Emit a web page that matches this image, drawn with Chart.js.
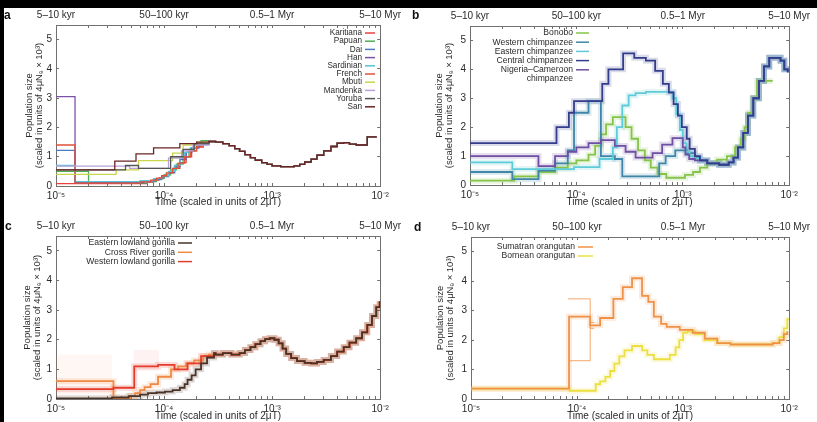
<!DOCTYPE html>
<html>
<head>
<meta charset="utf-8">
<script src="https://cdn.jsdelivr.net/npm/chart.js@4.4.1/dist/chart.umd.min.js"></script>
<style>
  body { margin: 0; background: #fff; }
  #wrap { position: relative; width: 817px; height: 422px; overflow: hidden; background: #fff; }
  canvas { position: absolute; }
  .tag { position: absolute; font: bold 12px "Liberation Sans", Arial, sans-serif; color: #111; line-height: 12px; }
  .edge { position: absolute; background: #000; }
</style>
</head>
<body>
<div id="wrap">
  <canvas id="chartA" width="408" height="211" style="left:0;top:0"></canvas>
  <canvas id="chartB" width="409" height="211" style="left:408px;top:0"></canvas>
  <canvas id="chartC" width="408" height="211" style="left:0;top:211px"></canvas>
  <canvas id="chartD" width="409" height="211" style="left:408px;top:211px"></canvas>
  <div class="edge" style="left:0;top:0;width:817px;height:8px"></div>
  <div class="edge" style="left:0;top:0;width:4px;height:422px"></div>
  <div class="tag" style="left:4px;top:9px">a</div>
  <div class="tag" style="left:412px;top:9px">b</div>
  <div class="tag" style="left:5px;top:220px">c</div>
  <div class="tag" style="left:414px;top:221px">d</div>
</div>
<script>
// AXES
const decades = [1e-5, 1e-4, 1e-3, 1e-2];
const bottomTickLabels = ["10⁻⁵", "10⁻⁴", "10⁻³", "10⁻²"];
const topTickLabels = ["5–10 kyr", "50–100 kyr", "0.5–1 Myr", "5–10 Myr"];
const yTicks = [0, 1, 2, 3, 4, 5];
const xTitle = "Time (scaled in units of 2μT)";
const yTitle = ["Population size", "(scaled in units of 4μNₑ × 10³)"];

// minor tick marks 1..9 per decade
const minorTicks = [];
decades.forEach((d, i) => {
    for (let k = 1; k < 10; k++) {
        if (i < 3 || k === 1) minorTicks.push(k * d);
    }
});

// PANEL A - humans
const aTrunkT = [2.6e-4, 3.0e-4, 3.5e-4, 4.0e-4, 4.5e-4, 5.0e-4, 5.6e-4, 6.3e-4, 7.0e-4, 8.0e-4, 9.0e-4, 1.0e-3, 1.2e-3, 1.4e-3, 1.6e-3, 1.8e-3, 2.0e-3, 2.3e-3, 2.6e-3, 3.0e-3, 3.5e-3, 4.0e-3, 4.6e-3, 5.2e-3, 6.0e-3, 7.6e-3, 9.3e-3];
const aTrunkN = [1.52, 1.5, 1.45, 1.38, 1.28, 1.18, 1.07, 0.97, 0.88, 0.8, 0.74, 0.69, 0.66, 0.66, 0.69, 0.74, 0.82, 0.92, 1.05, 1.2, 1.35, 1.46, 1.48, 1.43, 1.4, 1.68, 1.68];

const karitianaT = [1e-5, 7e-5, 8e-5, 9e-5, 1.0e-4, 1.1e-4, 1.25e-4, 1.4e-4, 1.6e-4, 1.8e-4, 2.0e-4, 2.3e-4];
const karitianaN = [0.08, 0.13, 0.2, 0.28, 0.36, 0.46, 0.6, 0.8, 1.0, 1.2, 1.33, 1.45];
const papuanT = [1e-5, 2.0e-5, 3.5e-5, 7e-5, 8.5e-5, 1.0e-4, 1.15e-4, 1.3e-4, 1.5e-4, 1.7e-4, 1.9e-4, 2.2e-4];
const papuanN = [0.5, 0.15, 0.1, 0.15, 0.25, 0.38, 0.55, 0.75, 1.0, 1.2, 1.38, 1.55];
const eastAsiaT = [1e-5, 1.5e-5, 6.5e-5, 8e-5, 9.5e-5, 1.1e-4, 1.25e-4, 1.4e-4, 1.6e-4, 1.8e-4, 2.1e-4];
const daiN = [1.22, 0.12, 0.15, 0.22, 0.32, 0.45, 0.65, 0.9, 1.15, 1.3, 1.42];
const hanN = [3.05, 0.12, 0.16, 0.24, 0.34, 0.48, 0.68, 0.92, 1.15, 1.3, 1.42];
const sardinianT = [1e-5, 1.5e-5, 6e-5, 8e-5, 9.5e-5, 1.1e-4, 1.25e-4, 1.4e-4, 1.55e-4, 1.75e-4, 2.0e-4];
const sardinianN = [0.7, 0.15, 0.18, 0.25, 0.35, 0.5, 0.7, 0.95, 1.15, 1.3, 1.42];
const frenchT = [1e-5, 1.5e-5, 6e-5, 7.5e-5, 8.5e-5, 9.5e-5, 1.05e-4, 1.2e-4, 1.35e-4, 1.55e-4, 1.75e-4, 2.0e-4, 2.3e-4];
const frenchN = [1.4, 0.1, 0.14, 0.2, 0.27, 0.35, 0.45, 0.6, 0.78, 1.0, 1.2, 1.35, 1.45];
const mbutiT = [1e-5, 3.6e-5, 5.8e-5, 1.2e-4, 1.5e-4, 2.0e-4];
const mbutiN = [0.4, 0.55, 0.87, 1.12, 1.4, 1.5];
const mandenkaT = [1e-5, 4.8e-5, 1.1e-4, 1.45e-4, 1.85e-4];
const mandenkaN = [0.68, 0.6, 0.95, 1.2, 1.4];
const yorubaT = [1e-5, 4.4e-5, 5.8e-5, 1.15e-4, 1.5e-4, 1.9e-4];
const yorubaN = [0.55, 0.7, 0.6, 1.0, 1.25, 1.45];
const sanT = [1e-5, 3.5e-5, 5.5e-5, 8e-5, 1.4e-4, 2.0e-4];
const sanN = [0.55, 0.85, 1.1, 1.3, 1.45, 1.5];

// PANEL B - chimpanzees and bonobo
const bTrunkT = [1.45e-3, 1.7e-3, 2.2e-3, 2.7e-3, 3.0e-3, 3.3e-3, 3.7e-3, 4.1e-3, 4.6e-3, 5.2e-3, 5.8e-3, 6.5e-3, 8.3e-3, 9.0e-3, 9.7e-3];
const bTrunkN = [0.85, 0.75, 0.7, 0.78, 0.95, 1.3, 1.8, 2.4, 3.0, 3.6, 4.1, 4.4, 4.3, 4.0, 3.9];

const bonoboT = [1e-5, 2.6e-5, 4.4e-5, 6.3e-5, 8.3e-5, 1.0e-4, 1.3e-4, 1.5e-4, 1.7e-4, 1.9e-4, 2.2e-4, 2.9e-4, 3.3e-4, 3.8e-4, 4.4e-4, 5.0e-4, 5.8e-4, 7e-4, 1.05e-3, 1.25e-3, 1.45e-3, 1.7e-3, 2.1e-3, 2.6e-3, 3.1e-3, 3.5e-3, 3.8e-3, 4.1e-3, 4.5e-3, 5.0e-3, 5.6e-3, 7.0e-3];
const bonoboN = [0.15, 0.3, 0.45, 0.6, 0.75, 0.85, 1.05, 1.35, 1.75, 2.1, 2.35, 2.0, 1.6, 1.2, 0.85, 0.6, 0.38, 0.25, 0.35, 0.45, 0.6, 0.75, 0.88, 1.0, 1.3, 1.6, 2.0, 2.5, 3.0, 3.6, 3.6, 3.6];
const westernT = [1e-5, 2.5e-5, 4.4e-5, 6.3e-5, 8.3e-5, 9.5e-5, 1.3e-4, 1.7e-4, 2.3e-4, 2.7e-4, 6.0e-4, 6.9e-4, 8.5e-4, 1.1e-3, 1.3e-3];
const westernN = [0.45, 0.2, 0.5, 0.75, 1.2, 2.5, 2.9, 1.0, 0.9, 0.3, 0.75, 1.0, 1.2, 1.1, 0.95];
const easternT = [1e-5, 2.5e-5, 9.5e-5, 1.65e-4, 2.2e-4, 2.4e-4, 2.7e-4, 3.1e-4, 3.6e-4, 4.5e-4, 8.0e-4, 8.7e-4, 9.4e-4, 1.0e-3, 1.08e-3, 1.16e-3, 1.3e-3];
const easternN = [0.78, 0.55, 0.62, 0.9, 1.3, 2.0, 2.75, 3.1, 3.18, 3.22, 3.0, 2.45, 1.9, 1.45, 1.15, 1.0, 0.92];
const centralT = [1e-5, 6.5e-5, 8.5e-5, 9.5e-5, 1.75e-4, 2.0e-4, 2.75e-4, 3.5e-4, 4.5e-4, 5.5e-4, 6.5e-4, 7.4e-4, 8.2e-4, 9.0e-4, 9.8e-4, 1.09e-3, 1.16e-3, 1.3e-3];
const centralN = [1.45, 2.0, 2.5, 2.9, 3.5, 4.0, 4.55, 4.4, 4.3, 3.95, 3.5, 3.2, 2.8, 2.4, 2.0, 1.6, 1.25, 1.0];
const nigeriaT = [1e-5, 4.4e-5, 6.3e-5, 8.3e-5, 1.0e-4, 1.3e-4, 1.7e-4, 2.3e-4, 2.9e-4, 3.6e-4, 5.2e-4, 6.4e-4, 8.0e-4, 1.0e-3, 1.06e-3, 1.15e-3, 1.3e-3];
const nigeriaN = [1.0, 0.65, 1.0, 1.15, 1.3, 1.45, 1.55, 1.35, 1.15, 0.95, 1.1, 1.4, 1.62, 1.3, 1.05, 0.9, 0.85];

// PANEL C - gorillas
const cTrunkT = [3.0e-4, 3.5e-4, 4.2e-4, 5.0e-4, 5.6e-4, 6.3e-4, 7.0e-4, 7.8e-4, 8.6e-4, 9.5e-4, 1.05e-3, 1.15e-3, 1.25e-3, 1.35e-3, 1.5e-3, 1.7e-3, 2.0e-3, 2.3e-3, 2.6e-3, 3.0e-3, 3.5e-3, 4.0e-3, 4.6e-3, 5.2e-3, 6.0e-3, 6.8e-3, 7.6e-3, 8.4e-3, 9.2e-3, 9.9e-3];
const cTrunkN = [1.5, 1.55, 1.5, 1.55, 1.65, 1.75, 1.85, 1.95, 2.02, 2.05, 2.0, 1.88, 1.7, 1.52, 1.38, 1.28, 1.22, 1.2, 1.25, 1.32, 1.45, 1.6, 1.75, 1.9, 2.05, 2.25, 2.5, 2.8, 3.1, 3.3];

const eLowlandT = [1e-5, 3.3e-5, 4.7e-5, 6e-5, 7.1e-5, 8.5e-5, 1.02e-4, 1.2e-4, 1.4e-4, 1.55e-4, 1.65e-4, 1.8e-4, 1.96e-4, 2.2e-4, 2.5e-4, 2.9e-4];
const eLowlandN = [0.02, 0.05, 0.1, 0.15, 0.2, 0.22, 0.25, 0.3, 0.38, 0.5, 0.65, 0.8, 1.0, 1.2, 1.4, 1.55];
const crossRiverT = [1e-5, 3.4e-5, 4.9e-5, 5.4e-5, 6e-5, 6.6e-5, 7.5e-5, 8.8e-5, 1.16e-4, 1.35e-4, 1.6e-4, 1.9e-4, 2.3e-4, 2.6e-4];
const crossRiverN = [0.6, 0.02, 0.1, 0.2, 0.3, 0.4, 0.5, 0.75, 1.0, 1.1, 1.2, 1.3, 1.45, 1.5];
const wLowlandT = [1e-5, 3.4e-5, 5.3e-5, 8.8e-5, 1.25e-4, 1.65e-4, 2.2e-4, 2.9e-4];
const wLowlandN = [0.33, 0.38, 1.1, 1.15, 1.0, 1.2, 1.45, 1.55];
// faint bootstrap spread at recent times
const cBandEarlyT = [1e-5, 3.3e-5];
const cBandEarlyLo = [0.1, 0.1];
const cBandEarlyHi = [1.5, 1.5];
const cBandMidT = [5.2e-5, 9e-5];
const cBandMidLo = [0.95, 0.95];
const cBandMidHi = [1.65, 1.65];

// PANEL D - orangutans
const sumatranT = [1e-5, 8.4e-5, 1.33e-4, 1.65e-4, 2.2e-4, 2.7e-4, 3.3e-4, 4.1e-4, 4.7e-4, 5.3e-4, 6.2e-4, 7e-4, 9.3e-4, 1.23e-3, 1.6e-3, 2.1e-3, 2.8e-3, 7e-3, 8.1e-3, 8.9e-3, 9.6e-3];
const sumatranN = [0.35, 2.8, 2.5, 2.75, 3.4, 3.8, 4.1, 3.5, 3.3, 2.8, 2.55, 2.45, 2.35, 2.25, 2.05, 1.9, 1.85, 1.9, 2.0, 2.2, 2.3];
const sumatranBootHiT = [8.2e-5, 1.33e-4, 1.45e-4];
const sumatranBootHiN = [3.4, 2.4, 2.4];
const sumatranBootLoT = [8.4e-5, 1.33e-4, 1.45e-4];
const sumatranBootLoN = [1.3, 2.6, 2.6];
const borneanT = [1e-5, 8.5e-5, 1.5e-4, 1.65e-4, 1.85e-4, 2.05e-4, 2.25e-4, 2.5e-4, 2.8e-4, 3.3e-4, 4.1e-4, 4.6e-4, 5.3e-4, 6.0e-4, 7.5e-4, 8.5e-4, 9.2e-4, 1.0e-3, 1.1e-3, 1.3e-3, 1.6e-3, 2.1e-3, 2.8e-3, 7e-3, 8.1e-3, 8.9e-3, 9.6e-3, 1e-2];
const borneanN = [0.35, 0.28, 0.5, 0.6, 0.75, 0.95, 1.2, 1.45, 1.65, 1.8, 1.65, 1.5, 1.35, 1.35, 1.5, 1.75, 2.0, 2.25, 2.3, 2.2, 2.0, 1.9, 1.85, 1.9, 2.1, 2.4, 2.7, 2.7];


const FONT = "'Liberation Sans', Arial, sans-serif";
const AXIS = "#707070";
const TEXT = "#2a2a2a";

function pts(t, n, t2, n2) {
    const tt = t2 ? t.concat(t2) : t;
    const nn = n2 ? n.concat(n2) : n;
    return tt.map((x, i) => ({ x: x, y: nn[i] }));
}

function rgba(hex, a) {
    const v = parseInt(hex.slice(1), 16);
    return `rgba(${v >> 16},${(v >> 8) & 255},${v & 255},${a})`;
}

// legend drawn inside the plot: text right aligned, short line after it
const sideLegend = {
    id: "sideLegend",
    afterDraw(chart, args, o) {
        const { ctx, chartArea } = chart;
        ctx.save();
        ctx.font = o.size + "px " + FONT;
        ctx.textAlign = "right";
        ctx.textBaseline = "middle";
        let row = 0;
        o.items.forEach(it => {
            const lines = [].concat(it.label);
            const y = chartArea.top + o.top + row * o.rowH;
            const x = chartArea.left + o.x;
            ctx.strokeStyle = it.color;
            ctx.lineWidth = 1.5;
            ctx.beginPath();
            ctx.moveTo(x + 3, y);
            ctx.lineTo(x + 3 + o.len, y);
            ctx.stroke();
            ctx.fillStyle = TEXT;
            lines.forEach((s, k) => ctx.fillText(s, x, y + k * o.rowH));
            row += lines.length;
        });
        ctx.restore();
    }
};

function logAxis(pos, labels, size, pad, withTitle, titlePad) {
    return {
        type: "logarithmic",
        position: pos,
        min: 1e-5,
        max: 1e-2,
        afterBuildTicks: s => { s.ticks = minorTicks.map(v => ({ value: v })); },
        afterFit: s => { s.height = size; },
        grid: { drawOnChartArea: false, drawTicks: true, tickLength: -3, tickColor: AXIS, tickWidth: 1 },
        border: { display: true, color: AXIS, width: 1 },
        ticks: {
            autoSkip: false, maxRotation: 0, padding: pad, color: TEXT,
            font: { family: FONT, size: 10 },
            callback: v => { const i = decades.indexOf(v); return i < 0 ? "" : labels[i]; }
        },
        title: withTitle
            ? { display: true, text: xTitle, color: TEXT, font: { family: FONT, size: 10 }, padding: { top: 0, bottom: titlePad } }
            : { display: false }
    };
}

function linAxis(pos, size, titlePad) {
    const left = pos === "left";
    return {
        type: "linear",
        position: pos,
        min: 0,
        max: 5.5,
        afterBuildTicks: s => { s.ticks = yTicks.map(v => ({ value: v })); },
        afterFit: s => { s.width = size; },
        grid: { drawOnChartArea: false, drawTicks: true, tickLength: -3, tickColor: AXIS },
        border: { display: true, color: AXIS, width: 1 },
        ticks: { display: left, padding: 7, color: TEXT, font: { family: FONT, size: 10 } },
        title: left
            ? { display: true, text: yTitle, color: TEXT, font: { family: FONT, size: 9.5, lineHeight: 1.0 }, padding: { top: titlePad, bottom: 0 } }
            : { display: false }
    };
}

function makePanel(id, geo, lines, legend, lw, halo, bands) {
    const datasets = [];
    (bands || []).forEach(b => {
        datasets.push({ data: pts(b.t, b.lo), borderWidth: 0, stepped: true, pointRadius: 0, fill: false, order: 100 });
        datasets.push({
            data: pts(b.t, b.hi), borderWidth: 0, stepped: true, pointRadius: 0,
            fill: "-1", backgroundColor: b.color, order: 100
        });
    });
    lines.forEach((l, i) => {
        datasets.push({
            label: l.label, data: l.data,
            borderColor: l.thin ? rgba(l.color, 0.8) : l.color,
            borderWidth: l.thin ? 1 : lw,
            stepped: true, pointRadius: 0, fill: false, order: l.order !== undefined ? l.order : i
        });
        if (halo && !l.thin) {
            datasets.push({
                label: "", data: l.data, borderColor: rgba(l.color, 0.18), borderWidth: halo,
                stepped: true, pointRadius: 0, fill: false, order: 50 + i
            });
        }
    });

    new Chart(document.getElementById(id), {
        type: "line",
        data: { datasets: datasets },
        options: {
            responsive: false,
            animation: false,
            layout: { padding: 0, autoPadding: false },
            plugins: {
                legend: { display: false },
                tooltip: { enabled: false },
                sideLegend: legend
            },
            scales: {
                x: logAxis("bottom", bottomTickLabels, geo.bottom, 7, true, geo.xTitlePad),
                x2: logAxis("top", topTickLabels, geo.top, 7, false, 0),
                y: linAxis("left", geo.left, geo.yTitlePad),
                y2: linAxis("right", geo.right, 0)
            }
        },
        plugins: [sideLegend]
    });
}

// a
makePanel("chartA",
    { left: 56, right: 21, top: 25, bottom: 25, yTitlePad: 25, xTitlePad: 3 },
    [
        { label: "Karitiana", color: "#e8423f", data: pts(karitianaT, karitianaN, aTrunkT, aTrunkN), order: 9 },
        { label: "Papuan", color: "#4caf50", data: pts(papuanT, papuanN, aTrunkT, aTrunkN), order: 8 },
        { label: "Dai", color: "#4a7cc4", data: pts(eastAsiaT, daiN, aTrunkT, aTrunkN), order: 7 },
        { label: "Han", color: "#7b52a8", data: pts(eastAsiaT, hanN, aTrunkT, aTrunkN), order: 6 },
        { label: "Sardinian", color: "#56c4d6", data: pts(sardinianT, sardinianN, aTrunkT, aTrunkN), order: 5 },
        { label: "French", color: "#e0523a", data: pts(frenchT, frenchN, aTrunkT, aTrunkN), order: 4 },
        { label: "Mbuti", color: "#c9d64a", data: pts(mbutiT, mbutiN, aTrunkT, aTrunkN), order: 3 },
        { label: "Mandenka", color: "#b9a0d8", data: pts(mandenkaT, mandenkaN, aTrunkT, aTrunkN), order: 2 },
        { label: "Yoruba", color: "#555555", data: pts(yorubaT, yorubaN, aTrunkT, aTrunkN), order: 1 },
        { label: "San", color: "#6b2424", data: pts(sanT, sanN, aTrunkT, aTrunkN), order: 0 }
    ],
    {
        x: 306, top: 8, rowH: 8.2, len: 10, size: 8.2,
        items: [
            { label: "Karitiana", color: "#e8423f" }, { label: "Papuan", color: "#4caf50" },
            { label: "Dai", color: "#4a7cc4" }, { label: "Han", color: "#7b52a8" },
            { label: "Sardinian", color: "#56c4d6" }, { label: "French", color: "#e0523a" },
            { label: "Mbuti", color: "#c9d64a" }, { label: "Mandenka", color: "#b9a0d8" },
            { label: "Yoruba", color: "#555555" }, { label: "San", color: "#6b2424" }
        ]
    },
    1.3, 0);

// b
makePanel("chartB",
    { left: 62, right: 15, top: 26, bottom: 26, yTitlePad: 27, xTitlePad: 3 },
    [
        { label: "Bonobo", color: "#86c34a", data: pts(bonoboT, bonoboN), order: 4 },
        { label: "Western chimpanzee", color: "#3f86a8", data: pts(westernT, westernN, bTrunkT, bTrunkN), order: 3 },
        { label: "Eastern chimpanzee", color: "#5fcbd8", data: pts(easternT, easternN, bTrunkT, bTrunkN), order: 2 },
        { label: "Central chimpanzee", color: "#343d8c", data: pts(centralT, centralN, bTrunkT, bTrunkN), order: 0 },
        { label: "Nigeria–Cameroon chimpanzee", color: "#6e4fa3", data: pts(nigeriaT, nigeriaN, bTrunkT, bTrunkN), order: 1 }
    ],
    {
        x: 103, top: 7, rowH: 9.2, len: 13, size: 8.6,
        items: [
            { label: "Bonobo", color: "#86c34a" },
            { label: "Western chimpanzee", color: "#3f86a8" },
            { label: "Eastern chimpanzee", color: "#5fcbd8" },
            { label: "Central chimpanzee", color: "#343d8c" },
            { label: ["Nigeria–Cameroon", "chimpanzee"], color: "#6e4fa3" }
        ]
    },
    1.8, 6);

// c
makePanel("chartC",
    { left: 56, right: 22, top: 25, bottom: 23, yTitlePad: 23, xTitlePad: 0 },
    [
        { label: "Eastern lowland gorilla", color: "#4a3326", data: pts(eLowlandT, eLowlandN, cTrunkT, cTrunkN), order: 0 },
        { label: "Cross River gorilla", color: "#ee8a45", data: pts(crossRiverT, crossRiverN, cTrunkT, cTrunkN), order: 2 },
        { label: "Western lowland gorilla", color: "#e43c2c", data: pts(wLowlandT, wLowlandN, cTrunkT, cTrunkN), order: 1 }
    ],
    {
        x: 119, top: 7, rowH: 9.3, len: 14, size: 8.6,
        items: [
            { label: "Eastern lowland gorilla", color: "#4a3326" },
            { label: "Cross River gorilla", color: "#ee8a45" },
            { label: "Western lowland gorilla", color: "#e43c2c" }
        ]
    },
    1.8, 6,
    [
        { t: cBandEarlyT, lo: cBandEarlyLo, hi: cBandEarlyHi, color: "rgba(240,140,100,0.07)" },
        { t: cBandMidT, lo: cBandMidLo, hi: cBandMidHi, color: "rgba(235,90,70,0.07)" }
    ]);

// d
makePanel("chartD",
    { left: 63, right: 16, top: 26, bottom: 23, yTitlePad: 28, xTitlePad: 0 },
    [
        { label: "Sumatran orangutan", color: "#ef9248", data: pts(sumatranT, sumatranN), order: 0 },
        { label: "Bornean orangutan", color: "#ece040", data: pts(borneanT, borneanN), order: 1 },
        { label: "", color: "#ef9248", data: pts(sumatranBootHiT, sumatranBootHiN), order: 2, thin: true },
        { label: "", color: "#ef9248", data: pts(sumatranBootLoT, sumatranBootLoN), order: 3, thin: true }
    ],
    {
        x: 104, top: 10, rowH: 9, len: 15, size: 8.6,
        items: [
            { label: "Sumatran orangutan", color: "#ef9248" },
            { label: "Bornean orangutan", color: "#ece040" }
        ]
    },
    1.8, 6);
</script>
</body>
</html>
